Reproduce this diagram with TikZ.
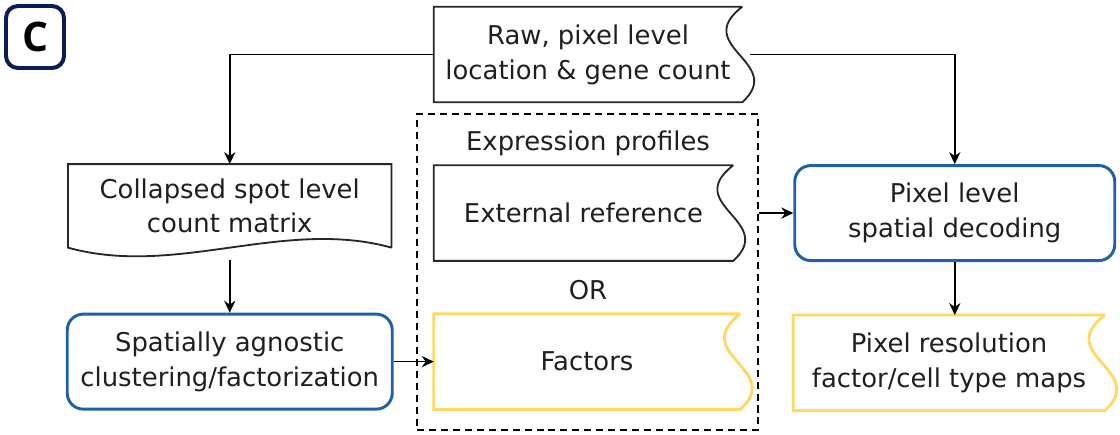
\documentclass[tikz,border=0pt]{standalone}
\usepackage{fontspec}
\setmainfont{DejaVu Sans}
\newfontfamily\badgefont{Open Sans}
\usetikzlibrary{arrows.meta,positioning,calc}
\definecolor{boxblue}{RGB}{32,96,168}
\definecolor{boxgold}{RGB}{255,215,100}
\definecolor{badgenavy}{RGB}{14,28,86}

\begin{document}
\begin{tikzpicture}[
  node distance=1cm,
  box/.style={rectangle,minimum height=2.375cm,inner sep=2pt,align=center,
    font=\fontsize{18.4}{24.8}\selectfont,text=black!88},
  roundbox/.style={box,draw=boxblue,line width=2.1pt,rounded corners=0.4cm},
  docline/.style={black!85,line width=1.3pt},
  goldline/.style={boxgold,line width=2pt},
  arr/.style={-{Stealth[length=8.5pt,width=8pt]},line width=1.1pt},
  grp/.style={draw,dash pattern=on 5pt off 3.5pt,line width=1.1pt},
  lbl/.style={font=\fontsize{18.4}{24.8}\selectfont,text=black!88},
]
  \useasboundingbox (0,0) rectangle (28,-10.85);

  \node[draw=badgenavy,line width=2.8pt,rounded corners=0.3cm,minimum width=1.45cm,
    minimum height=1.55cm,inner sep=0pt,font=\badgefont\fontsize{29}{29}\selectfont\bfseries] (badge) at (0.875,-0.925) {C};

  \node[box,minimum width=7.7cm] (raw) at (14.7,-1.3625) {Raw, pixel level\\location \& gene count};
  \node[box,minimum width=7.475cm,below=1.575cm of raw.south west,anchor=north west] (ext) {External reference};
  \node[box,minimum width=7.65cm,below=1.325cm of ext.south west,anchor=north west] (factors) {Factors};
  \node[roundbox,minimum width=8.125cm,left=of factors] (agnostic) {Spatially agnostic\\clustering/factorization};
  \node[box,minimum width=8.075cm,minimum height=2.075cm,above=1.625cm of agnostic] (collapsed) {Collapsed spot level\\count matrix};
  \node[roundbox,minimum width=8cm,right=1.5cm of ext] (pixdec) {Pixel level\\spatial decoding};
  \node[box,minimum width=7.775cm,below=1.325cm of pixdec.south west,anchor=north west] (pixres) {Pixel resolution\\factor/cell type maps};

  \node[grp,minimum width=8.525cm,minimum height=7.9cm] (profiles) at (14.6875,-6.8) {};
  \node[lbl] (exprlbl) at (14.7,-3.575) {Expression profiles};
  \node[lbl] (orlbl) at (14.7,-7.25) {OR};

  \foreach \n/\s in {raw/docline,ext/docline,factors/goldline,pixres/goldline}
    \draw[\s] (\n.north east) -- (\n.north west) -- (\n.south west) -- (\n.south east)
      .. controls ($(\n.south east)+(1.1,1)$) and ($(\n.north east)+(-1.3,-1)$) .. (\n.north east);
  \draw[docline] (collapsed.south east) -- (collapsed.north east) -- (collapsed.north west) -- (collapsed.south west)
    .. controls ($(collapsed.south west)+(2.7,-0.75)$) and ($(collapsed.south east)+(-2.7,0.75)$) .. (collapsed.south east);

  \draw[arr] (raw.west) -| (collapsed.north);
  \draw[arr] ([xshift=0.2cm]raw.east) -| (pixdec.north);
  \draw[arr] ([yshift=-0.3cm]collapsed.south) -- (agnostic.north);
  \draw[arr] (agnostic.east) -- (factors.west);
  \draw[arr] (profiles.east |- pixdec.west) -- (pixdec.west);
  \draw[arr] (pixdec.south) -- (pixdec.south |- pixres.north);
\end{tikzpicture}
\end{document}
